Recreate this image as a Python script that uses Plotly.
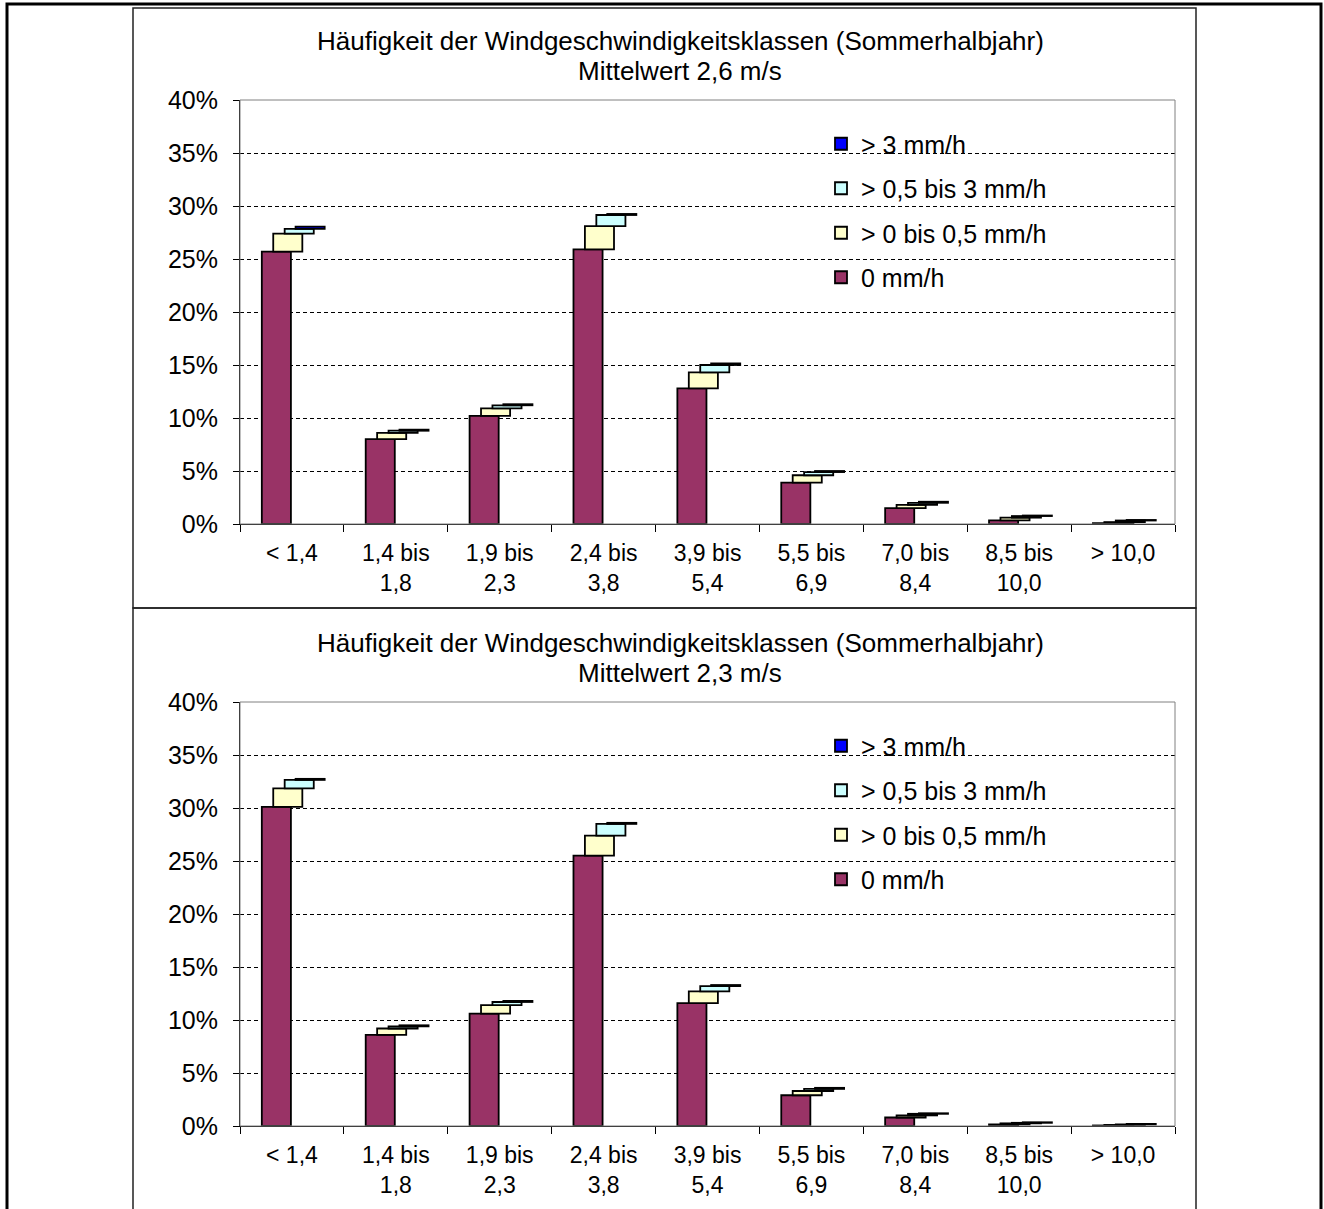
import numpy as np
import plotly.graph_objects as go

W, H = 1324, 1209

categories = ["< 1,4", "1,4 bis<br>1,8", "1,9 bis<br>2,3", "2,4 bis<br>3,8", "3,9 bis<br>5,4",
              "5,5 bis<br>6,9", "7,0 bis<br>8,4", "8,5 bis<br>10,0", "> 10,0"]
series_names = ["0 mm/h", "> 0 bis 0,5 mm/h", "> 0,5 bis 3 mm/h", "> 3 mm/h"]
series_colors = ["#993366", "#FFFFCC", "#CCFFFF", "#0000FF"]

title_line1 = "Häufigkeit der Windgeschwindigkeitsklassen (Sommerhalbjahr)"
subtitle_top = "Mittelwert 2,6 m/s"
subtitle_bottom = "Mittelwert 2,3 m/s"

# top panel (percent)
top_0mm = [25.7, 8.0, 10.2, 25.9, 12.8, 3.9, 1.5, 0.35, 0.08]
top_0_05 = [1.7, 0.6, 0.7, 2.2, 1.5, 0.7, 0.3, 0.25, 0.1]
top_05_3 = [0.45, 0.2, 0.3, 1.05, 0.7, 0.3, 0.2, 0.15, 0.15]
top_gt3 = [0.2, 0.1, 0.1, 0.1, 0.15, 0.1, 0.1, 0.05, 0.05]

# bottom panel (percent)
bot_0mm = [30.1, 8.6, 10.6, 25.5, 11.6, 2.9, 0.8, 0.15, 0.05]
bot_0_05 = [1.75, 0.6, 0.8, 1.9, 1.1, 0.4, 0.2, 0.1, 0.05]
bot_05_3 = [0.8, 0.2, 0.3, 1.1, 0.5, 0.2, 0.15, 0.05, 0.05]
bot_gt3 = [0.1, 0.1, 0.1, 0.1, 0.1, 0.1, 0.05, 0.05, 0.05]

y_ticks = [0, 5, 10, 15, 20, 25, 30, 35, 40]
y_ticktext = [f"{v}%" for v in y_ticks]

FONT = "Liberation Sans, Arial, sans-serif"

offsets = [-0.29, -0.18, -0.07, 0.035]
bar_w = 0.28

fig = go.Figure()


def add_panel(series, xa, ya, legend_name):
    cum = np.zeros(len(categories))
    for i, vals in enumerate(series):
        vals = np.array(vals, dtype=float)
        fig.add_trace(go.Bar(
            x=categories, y=vals, base=cum.copy(),
            offset=offsets[i], width=bar_w,
            name=series_names[i],
            marker=dict(color=series_colors[i], line=dict(color="black", width=1.8)),
            xaxis=xa, yaxis=ya, legend=legend_name,
            legendgroup=legend_name + str(i),
            legendrank=10 - i,
        ))
        cum = cum + vals


add_panel([top_0mm, top_0_05, top_05_3, top_gt3], "x", "y", "legend")
add_panel([bot_0mm, bot_0_05, bot_05_3, bot_gt3], "x2", "y2", "legend2")

xdom = [240 / W, 1175 / W]
ydom_top = [1 - 524 / H, 1 - 100 / H]
ydom_bot = [1 - 1126 / H, 1 - 702 / H]

xcommon = dict(domain=xdom, type="category", showline=True, linecolor="black", linewidth=1,
               ticks="outside", ticklen=7, tickcolor="black", tickson="boundaries",
               ticklabelstandoff=8,
               showgrid=False, tickfont=dict(family=FONT, size=23, color="black"),
               range=[-0.5, 8.5], fixedrange=True, automargin=False)
ycommon = dict(range=[0, 40], tickvals=y_ticks, ticktext=y_ticktext, tickmode="array",
               showline=True, linecolor="black",
               linewidth=1, ticks="outside", ticklen=6, tickcolor="black",
               ticklabelstandoff=10,
               showgrid=True, gridcolor="black", griddash="4px,3px", gridwidth=1,
               zeroline=False, tickfont=dict(family=FONT, size=25, color="black"),
               fixedrange=True, automargin=False)

legcommon = dict(xanchor="left", yanchor="top", bgcolor="rgba(0,0,0,0)", borderwidth=0,
                 font=dict(family=FONT, size=25, color="black"),
                 traceorder="grouped", tracegroupgap=9, itemclick=False)


def title_ann(text, ypx):
    return dict(text=text, x=680 / W, y=1 - ypx / H, xref="paper", yref="paper",
                xanchor="center", yanchor="middle", showarrow=False,
                font=dict(family=FONT, size=26, color="black"))


fig.update_layout(
    width=W, height=H,
    margin=dict(l=0, r=0, t=0, b=0, pad=0, autoexpand=False),
    paper_bgcolor="white", plot_bgcolor="white",
    barmode="overlay",
    showlegend=True,
    font=dict(family=FONT, size=23, color="black"),
    xaxis=dict(**xcommon, anchor="y"),
    yaxis=dict(**ycommon, domain=ydom_top, anchor="x"),
    xaxis2=dict(**xcommon, anchor="y2"),
    yaxis2=dict(**ycommon, domain=ydom_bot, anchor="x2"),
    legend=dict(**legcommon, x=821 / W, y=1 - 121 / H),
    legend2=dict(**legcommon, x=821 / W, y=1 - 723 / H),
    annotations=[
        title_ann(title_line1, 41),
        title_ann(subtitle_top, 71),
        title_ann(title_line1, 643),
        title_ann(subtitle_bottom, 673),
    ],
    shapes=[
        dict(type="rect", xref="x domain", yref="y domain", x0=0, x1=1, y0=0, y1=1,
             line=dict(color="#808080", width=1), layer="above"),
        dict(type="rect", xref="x2 domain", yref="y2 domain", x0=0, x1=1, y0=0, y1=1,
             line=dict(color="#808080", width=1), layer="above"),
        dict(type="rect", xref="paper", yref="paper", x0=133 / W, x1=1196 / W,
             y0=1 - 608 / H, y1=1 - 8 / H, line=dict(color="#222222", width=1.5)),
        dict(type="rect", xref="paper", yref="paper", x0=133 / W, x1=1196 / W,
             y0=-0.02, y1=1 - 608 / H, line=dict(color="#222222", width=1.5)),
        dict(type="rect", xref="paper", yref="paper", x0=7 / W, x1=1321 / W,
             y0=-0.02, y1=1 - 4 / H, line=dict(color="black", width=3)),
    ],
)

fig.write_html(
    "out.html",
    config={"displayModeBar": False},
    post_script="document.body.style.margin='0';document.body.style.padding='0';"
                "document.documentElement.style.overflow='hidden';",
)
